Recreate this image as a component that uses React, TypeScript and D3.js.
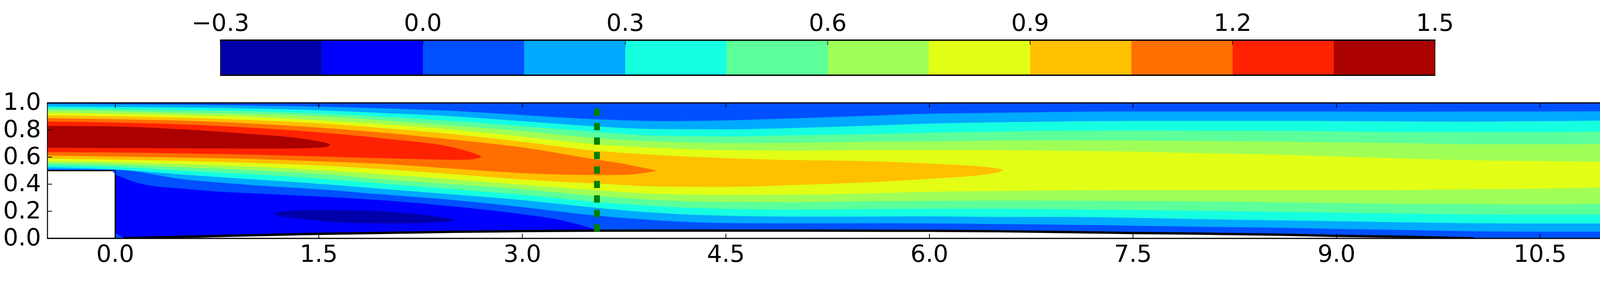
import React from "react";
import * as d3 from "d3";

const WIDTH = 4145;
const HEIGHT = 719;
const FONT = "'DejaVu Sans', sans-serif";
const FONT_SIZE = 61;

const bandColors = ["#0000aa", "#0000ff", "#0050ff", "#00aaff", "#16ffe1", "#5cff9a", "#9fff57", "#e2ff15", "#ffc000", "#ff6f00", "#ff2200", "#aa0000"];
const colorbarLevels = [-0.3, -0.15, 0, 0.15, 0.3, 0.45, 0.6, 0.75, 0.9, 1.05, 1.2, 1.35, 1.5];
const colorbarTicks = [-0.3, 0, 0.3, 0.6, 0.9, 1.2, 1.5];
const xTicks = [0, 1.5, 3, 4.5, 6, 7.5, 9, 10.5];
const yTicks = [0, 0.2, 0.4, 0.6, 0.8, 1];

const stationX = [-0.5, 0, 0.5, 1, 1.5, 2, 2.5, 3, 3.55, 4, 4.5, 5, 5.5, 6, 6.5, 7, 7.5, 8, 8.5, 9, 9.5, 10, 10.5, 11];

const upper015 = [0.993, 0.989, 0.986, 0.98, 0.973, 0.959, 0.94, 0.91, 0.879, 0.866, 0.871, 0.886, 0.903, 0.92, 0.927, 0.934, 0.937, 0.937, 0.937, 0.937, 0.935, 0.937, 0.937, 0.939];
const lower015 = [0.511, 0.507, 0.437, 0.394, 0.363, 0.322, 0.283, 0.231, 0.168, 0.133, 0.113, 0.111, 0.112, 0.11, 0.106, 0.101, 0.094, 0.086, 0.08, 0.07, 0.062, 0.053, 0.05, 0.05];
const upper030 = [0.974, 0.97, 0.966, 0.959, 0.945, 0.924, 0.9, 0.865, 0.826, 0.807, 0.805, 0.815, 0.83, 0.847, 0.857, 0.863, 0.867, 0.867, 0.867, 0.866, 0.863, 0.862, 0.865, 0.87];
const lower030 = [0.525, 0.509, 0.471, 0.437, 0.403, 0.363, 0.324, 0.283, 0.226, 0.188, 0.167, 0.161, 0.161, 0.163, 0.159, 0.159, 0.152, 0.142, 0.134, 0.127, 0.119, 0.112, 0.11, 0.11];
const upper045 = [0.959, 0.954, 0.946, 0.939, 0.922, 0.896, 0.865, 0.828, 0.786, 0.758, 0.753, 0.761, 0.768, 0.78, 0.788, 0.795, 0.796, 0.795, 0.793, 0.79, 0.784, 0.784, 0.784, 0.79];
const lower045 = [0.54, 0.528, 0.5, 0.474, 0.442, 0.402, 0.363, 0.322, 0.269, 0.237, 0.218, 0.213, 0.216, 0.219, 0.219, 0.215, 0.209, 0.204, 0.197, 0.19, 0.183, 0.177, 0.175, 0.175];
const upper060 = [0.946, 0.939, 0.927, 0.919, 0.901, 0.869, 0.831, 0.793, 0.74, 0.716, 0.703, 0.705, 0.713, 0.716, 0.722, 0.723, 0.722, 0.719, 0.715, 0.709, 0.703, 0.695, 0.695, 0.697];
const lower060 = [0.554, 0.545, 0.524, 0.504, 0.476, 0.434, 0.399, 0.363, 0.312, 0.283, 0.269, 0.267, 0.274, 0.277, 0.279, 0.279, 0.276, 0.273, 0.267, 0.261, 0.255, 0.253, 0.251, 0.255];
const upper075 = [0.928, 0.92, 0.91, 0.897, 0.872, 0.841, 0.802, 0.751, 0.694, 0.668, 0.651, 0.647, 0.651, 0.651, 0.651, 0.646, 0.641, 0.629, 0.62, 0.605, 0.59, 0.576, 0.571, 0.565];
const lower075 = [0.57, 0.562, 0.548, 0.53, 0.504, 0.471, 0.435, 0.396, 0.355, 0.329, 0.321, 0.323, 0.331, 0.344, 0.35, 0.355, 0.357, 0.357, 0.357, 0.357, 0.358, 0.363, 0.367, 0.377];

const x090 = [-0.5, 0, 0.5, 1, 1.5, 2, 2.5, 3, 3.55, 4, 4.5, 5, 5.5, 6, 6.5, 6.545];
const upper090 = [0.908, 0.901, 0.891, 0.874, 0.85, 0.812, 0.769, 0.713, 0.646, 0.616, 0.592, 0.578, 0.571, 0.552, 0.517, 0.504];
const lower090 = [0.59, 0.581, 0.572, 0.557, 0.538, 0.509, 0.473, 0.435, 0.405, 0.383, 0.38, 0.394, 0.412, 0.44, 0.485, 0.504];

const x105 = [-0.5, 0, 0.5, 1, 1.5, 2, 2.5, 3, 3.55, 3.737, 3.881, 3.99];
const upper105 = [0.888, 0.88, 0.869, 0.848, 0.818, 0.778, 0.728, 0.672, 0.581, 0.552, 0.524, 0.5];
const lower105 = [0.612, 0.604, 0.596, 0.586, 0.569, 0.548, 0.514, 0.482, 0.468, 0.469, 0.48, 0.5];

const x120 = [-0.5, 0, 0.5, 1, 1.5, 2, 2.5, 2.586, 2.672, 2.7];
const upper120 = [0.863, 0.855, 0.841, 0.817, 0.783, 0.735, 0.669, 0.646, 0.617, 0.603];
const lower120 = [0.637, 0.634, 0.627, 0.618, 0.605, 0.591, 0.58, 0.581, 0.591, 0.603];

const x135 = [-0.5, 0, 0.5, 1, 1.253, 1.5, 1.56, 1.585];
const upper135 = [0.83, 0.826, 0.805, 0.77, 0.751, 0.716, 0.703, 0.691];
const lower135 = [0.669, 0.667, 0.665, 0.663, 0.663, 0.669, 0.677, 0.691];

const x000 = [0, 0.073, 0.169, 0.265, 0.5, 0.745, 1, 1.5, 2, 2.5, 3, 3.287, 3.4, 3.55];
const upper000 = [0.471, 0.442, 0.408, 0.389, 0.367, 0.346, 0.333, 0.309, 0.279, 0.235, 0.178, 0.134, 0.106, 0.062];
const lower000 = [0, 0, 0, 0, 0, 0, 0, 0, 0, 0, 0, 0, 0, 0];

const xNeg015 = [1.171, 1.19, 1.281, 1.5, 1.761, 2, 2.24, 2.385, 2.49, 2.5];
const upperNeg015 = [0.181, 0.192, 0.202, 0.209, 0.207, 0.197, 0.178, 0.159, 0.139, 0.134];
const lowerNeg015 = [0.181, 0.169, 0.154, 0.13, 0.113, 0.11, 0.112, 0.12, 0.13, 0.134];

const streamX = [0.064, 0.5, 0.995, 1.5, 2, 2.5, 3, 3.55, 4, 5, 6, 6.5, 7, 7.5, 8, 8.5, 9, 9.5, 10.01];
const streamY = [0.001, 0.012, 0.023, 0.034, 0.041, 0.049, 0.054, 0.057, 0.058, 0.058, 0.056, 0.053, 0.047, 0.04, 0.035, 0.029, 0.019, 0.012, 0];

const cornerLowX = [0, 0.064, 0];
const cornerLowY = [0.038, 0.003, 0.003];
const cornerTopX = [-0.025, 0, 0];
const cornerTopY = [0.5, 0.5, 0.474];

const blockX = [-0.5, 0];
const blockY = [0, 0.5];
const guideX = 3.55;
const guideY = [0.958, 0.051];

const bands = [
  { color: bandColors[3], xs: stationX, upper: upper015, lower: lower015 },
  { color: bandColors[4], xs: stationX, upper: upper030, lower: lower030 },
  { color: bandColors[5], xs: stationX, upper: upper045, lower: lower045 },
  { color: bandColors[6], xs: stationX, upper: upper060, lower: lower060 },
  { color: bandColors[7], xs: stationX, upper: upper075, lower: lower075 },
  { color: bandColors[8], xs: x090, upper: upper090, lower: lower090 },
  { color: bandColors[9], xs: x105, upper: upper105, lower: lower105 },
  { color: bandColors[10], xs: x120, upper: upper120, lower: lower120 },
  { color: bandColors[11], xs: x135, upper: upper135, lower: lower135 },
  { color: bandColors[1], xs: x000, upper: upper000, lower: lower000 },
  { color: bandColors[0], xs: xNeg015, upper: upperNeg015, lower: lowerNeg015 },
];

const x = d3.scaleLinear().domain([-0.5, 11]).range([121.3, 4116.3]);
const y = d3.scaleLinear().domain([0, 1]).range([610, 263.3]);
const cbar = d3.scaleLinear().domain([-0.3, 1.5]).range([564.3, 3673.6]);
const CB_TOP = 102.7;
const CB_BOTTOM = 192.6;

const fmt = d3.format(".1f");
const label = (v: number) => fmt(v).replace("-", "\u2212");

function bandPath(xs: number[], upper: number[], lower: number[]) {
  const idx = xs.map((_, i) => i);
  return d3
    .area<number>()
    .x((i) => x(xs[i]))
    .y0((i) => y(lower[i]))
    .y1((i) => y(upper[i]))
    .curve(d3.curveMonotoneX)(idx) as string;
}

function polyPath(xs: number[], ys: number[]) {
  return (d3
    .line<number>()
    .x((i) => x(xs[i]))
    .y((i) => y(ys[i]))(xs.map((_, i) => i)) as string) + "Z";
}

const streamIdx = streamX.map((_, i) => i);
const streamLine = d3
  .line<number>()
  .x((i) => x(streamX[i]))
  .y((i) => y(streamY[i]))
  .curve(d3.curveMonotoneX)(streamIdx) as string;
const streamUnder = d3
  .area<number>()
  .x((i) => x(streamX[i]))
  .y0(y(0))
  .y1((i) => y(streamY[i]))
  .curve(d3.curveMonotoneX)(streamIdx) as string;

function Frame({ l, r, t, b, side, cap }: { l: number; r: number; t: number; b: number; side: number; cap: number }) {
  return (
    <g stroke="#000" fill="none">
      <line x1={l} x2={l} y1={t} y2={b} strokeWidth={side} />
      <line x1={r} x2={r} y1={t} y2={b} strokeWidth={side} />
      <line x1={l - side / 2} x2={r + side / 2} y1={t} y2={t} strokeWidth={cap} />
      <line x1={l - side / 2} x2={r + side / 2} y1={b} y2={b} strokeWidth={cap} />
    </g>
  );
}

export default function App() {
  const [x0, x1] = x.domain().map(x);
  const [y0, y1] = y.domain().map(y);
  return (
    <svg
      width={WIDTH}
      height={HEIGHT}
      viewBox={`0 0 ${WIDTH} ${HEIGHT}`}
      style={{ position: "absolute", left: 0, top: 0, display: "block", background: "#fff" }}
      fontFamily={FONT}
      fontSize={FONT_SIZE}
    >
      <defs>
        <clipPath id="plot">
          <rect x={x0} y={y1} width={x1 - x0} height={y0 - y1} />
        </clipPath>
      </defs>

      <g>
        {bandColors.map((c, i) => (
          <rect
            key={c}
            x={cbar(colorbarLevels[i])}
            y={CB_TOP}
            width={cbar(colorbarLevels[i + 1]) - cbar(colorbarLevels[i]) + 0.5}
            height={CB_BOTTOM - CB_TOP}
            fill={c}
          />
        ))}
        {colorbarTicks.map((t) => (
          <line key={t} x1={cbar(t)} x2={cbar(t)} y1={CB_TOP} y2={CB_TOP + 12} stroke="#000" strokeWidth={1.5} />
        ))}
        <Frame l={cbar(-0.3)} r={cbar(1.5)} t={CB_TOP} b={CB_BOTTOM} side={1.5} cap={3.5} />
        {colorbarTicks.map((t) => (
          <text key={t} x={cbar(t)} y={79} textAnchor="middle">
            {label(t)}
          </text>
        ))}
      </g>

      <g clipPath="url(#plot)">
        <rect x={x0} y={y1} width={x1 - x0} height={y0 - y1} fill={bandColors[2]} />
        {bands.map((b, i) => (
          <path key={i} d={bandPath(b.xs, b.upper, b.lower)} fill={b.color} />
        ))}
        <path d={polyPath(cornerLowX, cornerLowY)} fill={bandColors[2]} />
        <path d={streamUnder} fill="#fff" />
        <path d={streamLine} fill="none" stroke="#000" strokeWidth={6} />
        <rect
          x={x(blockX[0])}
          y={y(blockY[1])}
          width={x(blockX[1]) - x(blockX[0])}
          height={y(blockY[0]) - y(blockY[1])}
          fill="#fff"
          stroke="#000"
          strokeWidth={3}
        />
        <path d={polyPath(cornerTopX, cornerTopY)} fill={bandColors[2]} />
        <line
          x1={x(guideX)}
          x2={x(guideX)}
          y1={y(guideY[0])}
          y2={y(guideY[1])}
          stroke="#008000"
          strokeWidth={15}
          strokeDasharray="18.3 18.7"
        />
      </g>

      <g stroke="#000" strokeWidth={2}>
        {xTicks.map((t) => (
          <g key={t}>
            <line x1={x(t)} x2={x(t)} y1={y0} y2={y0 - 12} />
            <line x1={x(t)} x2={x(t)} y1={y1} y2={y1 + 12} />
          </g>
        ))}
        {yTicks.map((t) => (
          <g key={t}>
            <line x1={x0} x2={x0 + 12} y1={y(t)} y2={y(t)} />
            <line x1={x1} x2={x1 - 12} y1={y(t)} y2={y(t)} />
          </g>
        ))}
      </g>

      <Frame l={x0} r={x1} t={y1} b={y0} side={2} cap={3} />

      {xTicks.map((t) => (
        <text key={t} x={x(t)} y={670} textAnchor="middle">
          {label(t)}
        </text>
      ))}
      {yTicks.map((t) => (
        <text key={t} x={105} y={y(t) + 18} textAnchor="end">
          {label(t)}
        </text>
      ))}
    </svg>
  );
}
